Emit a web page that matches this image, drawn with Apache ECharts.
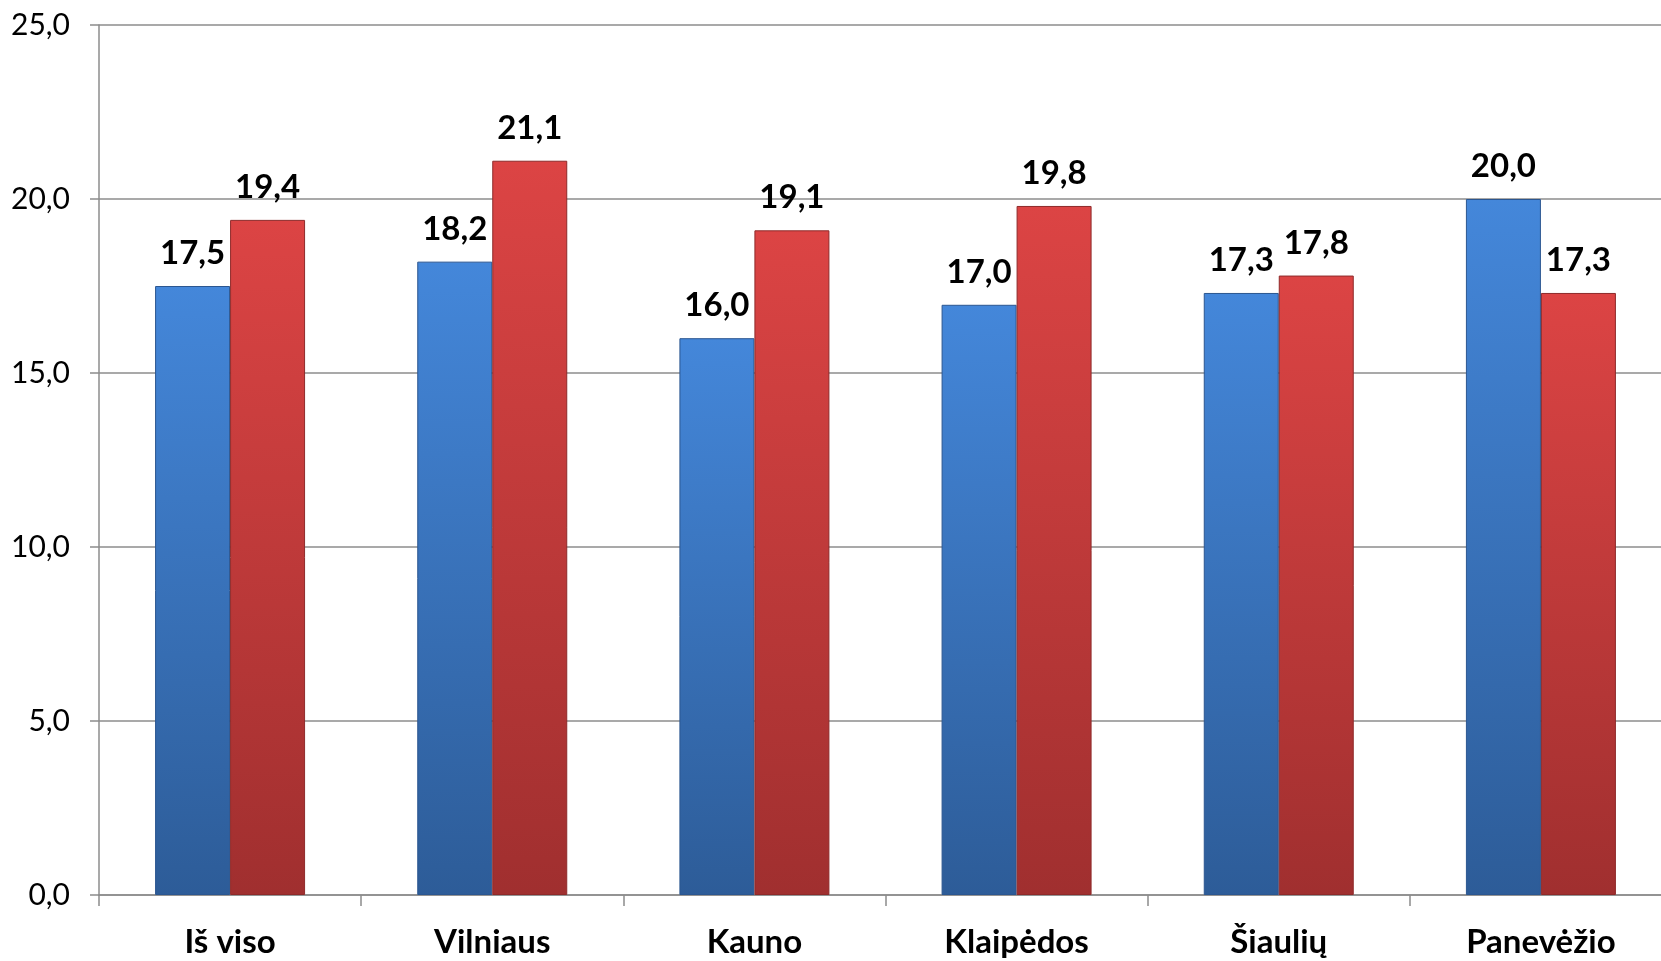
<!DOCTYPE html>
<html>
<head>
<meta charset="utf-8">
<script src="https://cdn.jsdelivr.net/npm/echarts@6/dist/echarts.min.js"></script>
<style>
  html, body { margin: 0; padding: 0; background: #fff; overflow: hidden; }
  #main { width: 1672px; height: 961px; }
</style>
</head>
<body>
<div id="main"></div>
<script>
// duomenys
var categories = ['Iš viso', 'Vilniaus', 'Kauno', 'Klaipėdos', 'Šiaulių', 'Panevėžio'];
var blueValues = [17.5, 18.2, 16.0, 16.96, 17.3, 20.0];
var redValues = [19.4, 21.1, 19.1, 19.8, 17.8, 17.3];

function fmt(v) {
  return v.toFixed(1).replace('.', ',');
}

function grad(top, bottom) {
  return new echarts.graphic.LinearGradient(0, 0, 0, 1, [
    { offset: 0, color: top },
    { offset: 1, color: bottom }
  ]);
}

var chart = echarts.init(document.getElementById('main'));

var labelStyle = {
  show: true,
  position: 'top',
  distance: 16,
  color: '#000',
  fontFamily: 'Lato',
  fontWeight: 'bold',
  fontSize: 33,
  formatter: function (p) { return fmt(p.value); }
};

chart.setOption({
  animation: false,
  grid: { left: 99, right: 0, top: 25, bottom: 66 },
  xAxis: {
    type: 'category',
    data: categories,
    axisLine: { lineStyle: { color: '#8c8c8c', width: 1.5 } },
    axisTick: { show: true, length: 11, lineStyle: { color: '#8c8c8c', width: 1.5 } },
    axisLabel: {
      color: '#000',
      fontFamily: 'Lato',
      fontWeight: 'bold',
      fontSize: 33,
      margin: 31
    }
  },
  yAxis: {
    type: 'value',
    min: 0,
    max: 25,
    interval: 5,
    axisLine: { show: true, lineStyle: { color: '#8c8c8c', width: 1.5 } },
    axisTick: { show: true, inside: false, length: 9, lineStyle: { color: '#8c8c8c', width: 1.5 } },
    splitLine: { lineStyle: { color: '#8c8c8c', width: 1.5 } },
    axisLabel: {
      color: '#000',
      fontFamily: 'Lato',
      fontSize: 30,
      margin: 29,
      formatter: function (v) { return fmt(v); }
    }
  },
  series: [
    {
      name: 'A',
      type: 'bar',
      data: blueValues,
      barWidth: 75,
      barGap: '0%',
      itemStyle: {
        color: grad('#4487da', '#2d5c98'),
        borderColor: '#2b5690',
        borderWidth: 1
      },
      label: labelStyle
    },
    {
      name: 'B',
      type: 'bar',
      data: redValues,
      barWidth: 75,
      itemStyle: {
        color: grad('#dc4444', '#a02f2f'),
        borderColor: '#8e2a2a',
        borderWidth: 1
      },
      label: labelStyle
    }
  ]
});
</script>
</body>
</html>
